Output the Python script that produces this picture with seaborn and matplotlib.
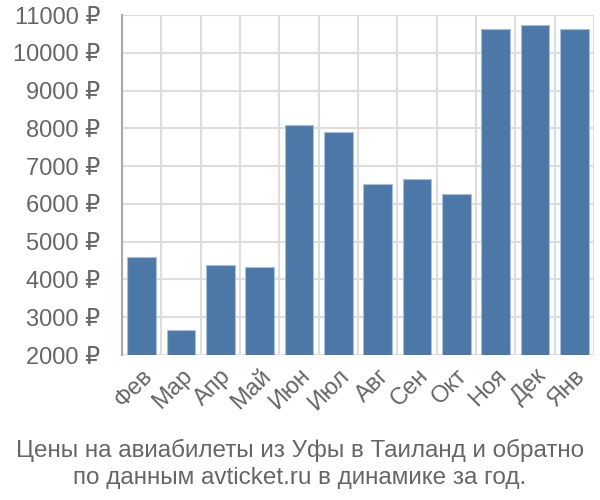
import matplotlib
matplotlib.use('Agg')
import matplotlib.pyplot as plt
import seaborn as sns
import pandas as pd
import numpy as np

# Data
months = ['Фев', 'Мар', 'Апр', 'Май', 'Июн', 'Июл',
          'Авг', 'Сен', 'Окт', 'Ноя', 'Дек', 'Янв']
prices = [4586, 2652, 4375, 4341, 8089, 7912,
          6539, 6663, 6267, 10622, 10728, 10622]
y_ticks = [2000, 3000, 4000, 5000, 6000, 7000, 8000, 9000, 10000, 11000]
title = ('Цены на авиабилеты из Уфы в Таиланд и обратно\n'
         'по данным avticket.ru в динамике за год.')

sns.set_style('white')
plt.rcParams['font.family'] = ['Liberation Sans', 'DejaVu Sans']

df = pd.DataFrame({'month': months, 'price': prices})

fig = plt.figure(figsize=(6, 5), dpi=100)
ax = fig.add_axes([0.2033, 0.29, 0.7867, 0.68])

sns.barplot(data=df, x='month', y='price', color='#4c78a8',
            saturation=1, width=0.73, edgecolor='#a9bdd6',
            linewidth=0.8, ax=ax, zorder=3)

ax.set_ylim(2000, 11000)
ax.set_xlim(-0.5, len(months) - 0.5)
ax.set_yticks(y_ticks)
ax.set_yticklabels([f'{v} ₽' for v in y_ticks])
ax.set_xlabel('')
ax.set_ylabel('')

# vertical grid between the bars
ax.set_xticks(np.arange(-0.5, len(months)), minor=True)
ax.grid(which='minor', axis='x', color='#dddddd', linewidth=1.5, zorder=0)
ax.grid(which='major', axis='y', color='#dddddd', linewidth=1.5, zorder=0)
ax.tick_params(axis='x', which='minor', length=14, width=1.5,
               color='#dddddd')
ax.tick_params(axis='x', which='major', length=0, pad=7,
               labelsize=17, labelcolor='#666666')
ax.tick_params(axis='y', length=14.5, width=1.5, color='#dddddd', pad=1,
               labelsize=17, labelcolor='#666666')
plt.setp(ax.get_xticklabels(), rotation=45, ha='right',
         rotation_mode='anchor')

for side in ['top', 'right', 'bottom']:
    ax.spines[side].set_visible(False)
ax.spines['left'].set_color('#aaaaaa')
ax.spines['left'].set_linewidth(1.5)
ax.spines['left'].set_bounds(2000, 11000)

fig.text(0.5, 0.022, title, ha='center', va='bottom', fontsize=17.5,
         color='#666666', linespacing=1.3)

fig.savefig('out.png', dpi=100)
